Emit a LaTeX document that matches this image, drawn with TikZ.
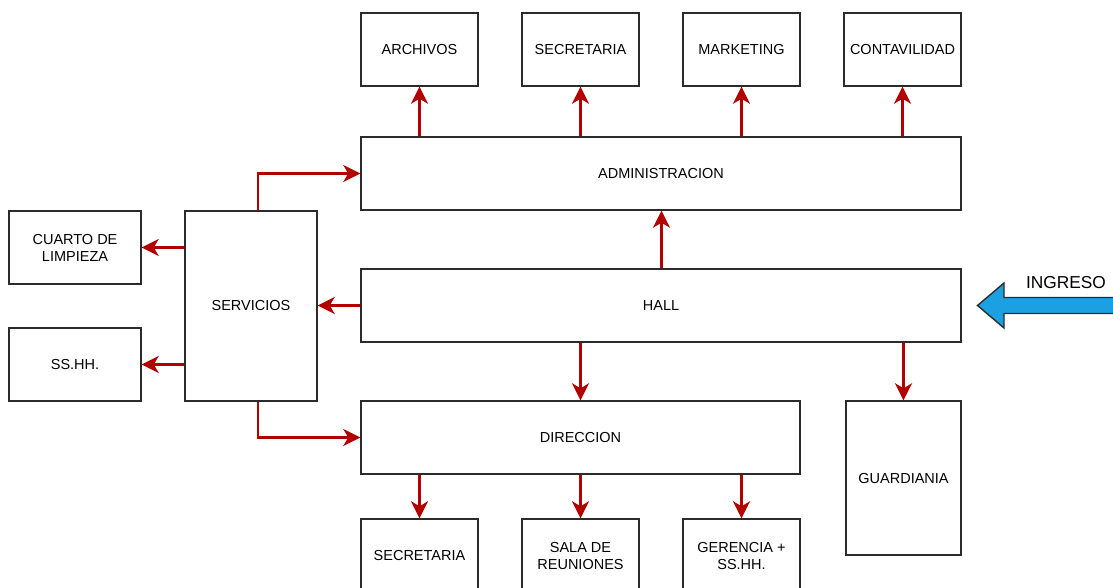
\documentclass[tikz,border=0pt]{standalone}
\usepackage{fontspec}
\setmainfont{Liberation Sans}
\usetikzlibrary{arrows.meta}
\definecolor{flowred}{HTML}{B20000}
\definecolor{boxline}{HTML}{2B2B2B}
\definecolor{entryblue}{HTML}{1BA1E2}
\tikzset{
  room/.style={draw=boxline, line width=1.4pt, fill=white, align=center,
    inner sep=2pt, font=\fontsize{14.5}{17}\selectfont},
  flow/.style={draw=flowred, line width=2.8pt,
    -{Stealth[length=17pt,width=17pt,inset=5pt]}},
}
\begin{document}
\begin{tikzpicture}[x=1pt,y=-1pt]
  \clip (0,0) rectangle (1113,587);
  \fill[white] (0,0) rectangle (1113,587);

  % administration row and its offices
  \node[room, minimum width=117, minimum height=73] (arch) at (419.5,49.5) {ARCHIVOS};
  \node[room, minimum width=117, minimum height=73] (secA) at (580.5,49.5) {SECRETARIA};
  \node[room, minimum width=117, minimum height=73] (mkt) at (741.5,49.5) {MARKETING};
  \node[room, minimum width=117, minimum height=73] (cont) at (902.5,49.5) {CONTAVILIDAD};
  \node[room, minimum width=600, minimum height=73] (adm) at (661,173.5) {ADMINISTRACION};

  % services wing
  \node[room, minimum width=132, minimum height=73] (cuarto) at (75,247.5) {CUARTO DE\\LIMPIEZA};
  \node[room, minimum width=132, minimum height=73] (sshh) at (75,364.5) {SS.HH.};
  \node[room, minimum width=132, minimum height=190] (serv) at (251,306) {SERVICIOS};

  % hall and direction
  \node[room, minimum width=600, minimum height=73] (hall) at (661,305.5) {HALL};
  \node[room, minimum width=439, minimum height=73] (dir) at (580.5,437.5) {DIRECCION};
  \node[room, minimum width=115, minimum height=154] (guard) at (903.5,478) {GUARDIANIA};

  % bottom offices
  \node[room, minimum width=117, minimum height=73] (secB) at (419.5,555.5) {SECRETARIA};
  \node[room, minimum width=117, minimum height=73] (sala) at (580.5,555.5) {SALA DE\\REUNIONES};
  \node[room, minimum width=117, minimum height=73] (ger) at (741.5,555.5) {GERENCIA +\\SS.HH.};

  % circulation
  \draw[flow] (adm.north -| arch.south) -- (arch.south);
  \draw[flow] (adm.north -| secA.south) -- (secA.south);
  \draw[flow] (adm.north -| mkt.south) -- (mkt.south);
  \draw[flow] (adm.north -| cont.south) -- (cont.south);
  \draw[flow] ([xshift=0.5]hall.north) -- ([xshift=0.5]adm.south);
  \draw[flow] (hall.west) -- (serv.east |- hall.west);
  \draw[flow] (serv.west |- cuarto.east) -- (cuarto.east);
  \draw[flow] (serv.west |- sshh.east) -- (sshh.east);
  \draw[flow] ([xshift=7]serv.north) |- (adm.west);
  \draw[flow] ([xshift=7]serv.south) |- (dir.west);
  \draw[flow] (hall.south -| dir.north) -- (dir.north);
  \draw[flow] (hall.south -| guard.north) -- (guard.north);
  \draw[flow] (dir.south -| secB.north) -- (secB.north);
  \draw[flow] (dir.south -| sala.north) -- (sala.north);
  \draw[flow] (dir.south -| ger.north) -- (ger.north);

  % main entrance
  \coordinate (tip) at (977.5,305.5);
  \draw[boxline, line width=1.4pt, fill=entryblue, line join=miter]
    (tip) -- (1004,283) -- (1004,297.5) -- (1120,297.5) -- (1120,313.5)
    -- (1004,313.5) -- (1004,328) -- cycle;
  \node[font=\fontsize{17.3}{20}\selectfont, inner sep=0pt] (ingreso) at (1066,283) {INGRESO};
\end{tikzpicture}
\end{document}
